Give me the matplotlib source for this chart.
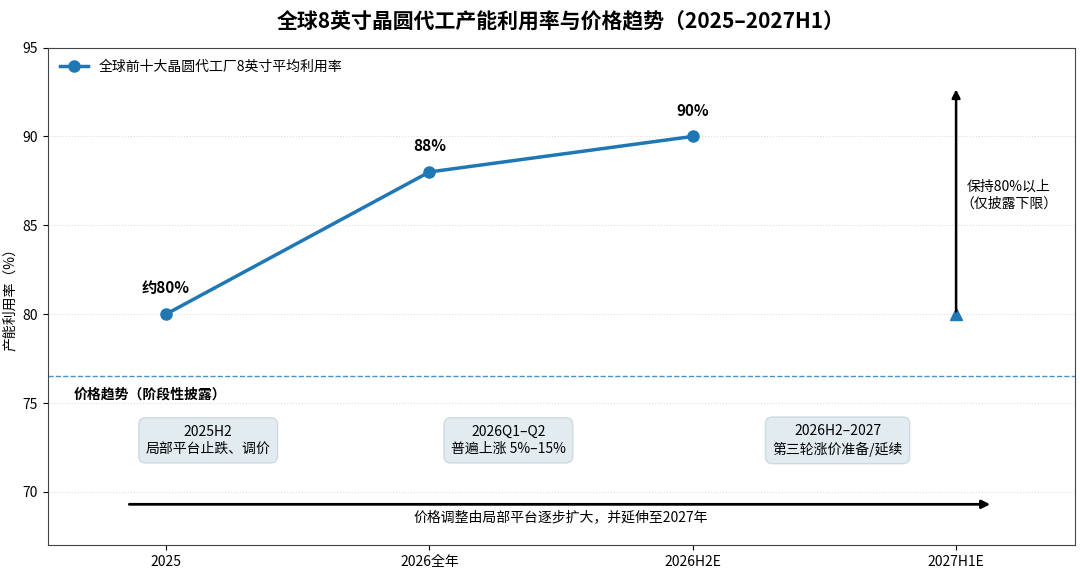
import matplotlib
matplotlib.use("Agg")
import matplotlib.pyplot as plt

plt.rcParams['font.family'] = ['Noto Sans CJK SC', 'DejaVu Sans']
plt.rcParams['axes.unicode_minus'] = False

periods = ["2025", "2026全年", "2026H2E", "2027H1E"]
util_x = [0, 1, 2]
util_vals = [80, 88, 90]
util_labels = ["约80%", "88%", "90%"]
floor_x = 3
floor_val = 80
floor_top = 92.8

price_stages = ["2025H2\n局部平台止跌、调价",
                "2026Q1–Q2\n普遍上涨 5%–15%",
                "2026H2–2027\n第三轮涨价准备/延续"]
price_x = [0.16, 1.3, 2.55]
price_y = 72.9

BLUE = "#1f77b4"

fig, ax = plt.subplots(figsize=(10.8, 5.8), dpi=100)
fig.subplots_adjust(left=0.044, right=0.995, top=0.918, bottom=0.06)

ax.plot(util_x, util_vals, "-o", color=BLUE, lw=2.5, ms=8,
        label="全球前十大晶圆代工厂8英寸平均利用率")
for x, v, t in zip(util_x, util_vals, util_labels):
    ax.text(x, v + 1.0, t, ha="center", va="bottom", fontsize=11, fontweight="bold")

# 2027H1E: only a lower bound is disclosed
ax.annotate("", xy=(floor_x, floor_top), xytext=(floor_x, floor_val),
            arrowprops=dict(arrowstyle="-|>", color="black", lw=1.8, mutation_scale=12))
ax.plot([floor_x], [floor_val], marker="^", color=BLUE, ms=9, ls="none")
ax.text(floor_x + 0.2, 86.7, "保持80%以上\n（仅披露下限）", ha="center", va="center",
        fontsize=10, linespacing=1.3)

# price section
ax.axhline(76.5, color=BLUE, ls="--", lw=1, alpha=0.8)
ax.text(-0.35, 75.5, "价格趋势（阶段性披露）", ha="left", va="center",
        fontsize=10, fontweight="bold")
for x, t in zip(price_x, price_stages):
    ax.text(x, price_y, t, ha="center", va="center", fontsize=10, linespacing=1.3,
            bbox=dict(boxstyle="round,pad=0.5", fc="#dce8ee", ec="#c8d6de", alpha=0.85))
ax.annotate("", xy=(3.14, 69.3), xytext=(-0.15, 69.3),
            arrowprops=dict(arrowstyle="-|>", color="black", lw=2, mutation_scale=12))
ax.text(1.5, 68.6, "价格调整由局部平台逐步扩大，并延伸至2027年", ha="center", va="center",
        fontsize=10)

ax.set_xlim(-0.45, 3.45)
ax.set_ylim(67, 95)
ax.set_xticks(range(len(periods)))
ax.set_xticklabels(periods, fontsize=10)
ax.set_yticks([70, 75, 80, 85, 90, 95])
ax.tick_params(axis="y", labelsize=10)
ax.set_ylabel("产能利用率（%）", fontsize=10)
ax.grid(axis="y", ls=":", color="#dddddd", lw=0.8)
ax.set_axisbelow(True)
for s in ax.spines.values():
    s.set_color("#444444")
ax.legend(loc="upper left", frameon=False, fontsize=10)
ax.set_title("全球8英寸晶圆代工产能利用率与价格趋势（2025–2027H1）",
             fontsize=15, fontweight="bold", pad=14)

fig.savefig("out.png", dpi=100)
